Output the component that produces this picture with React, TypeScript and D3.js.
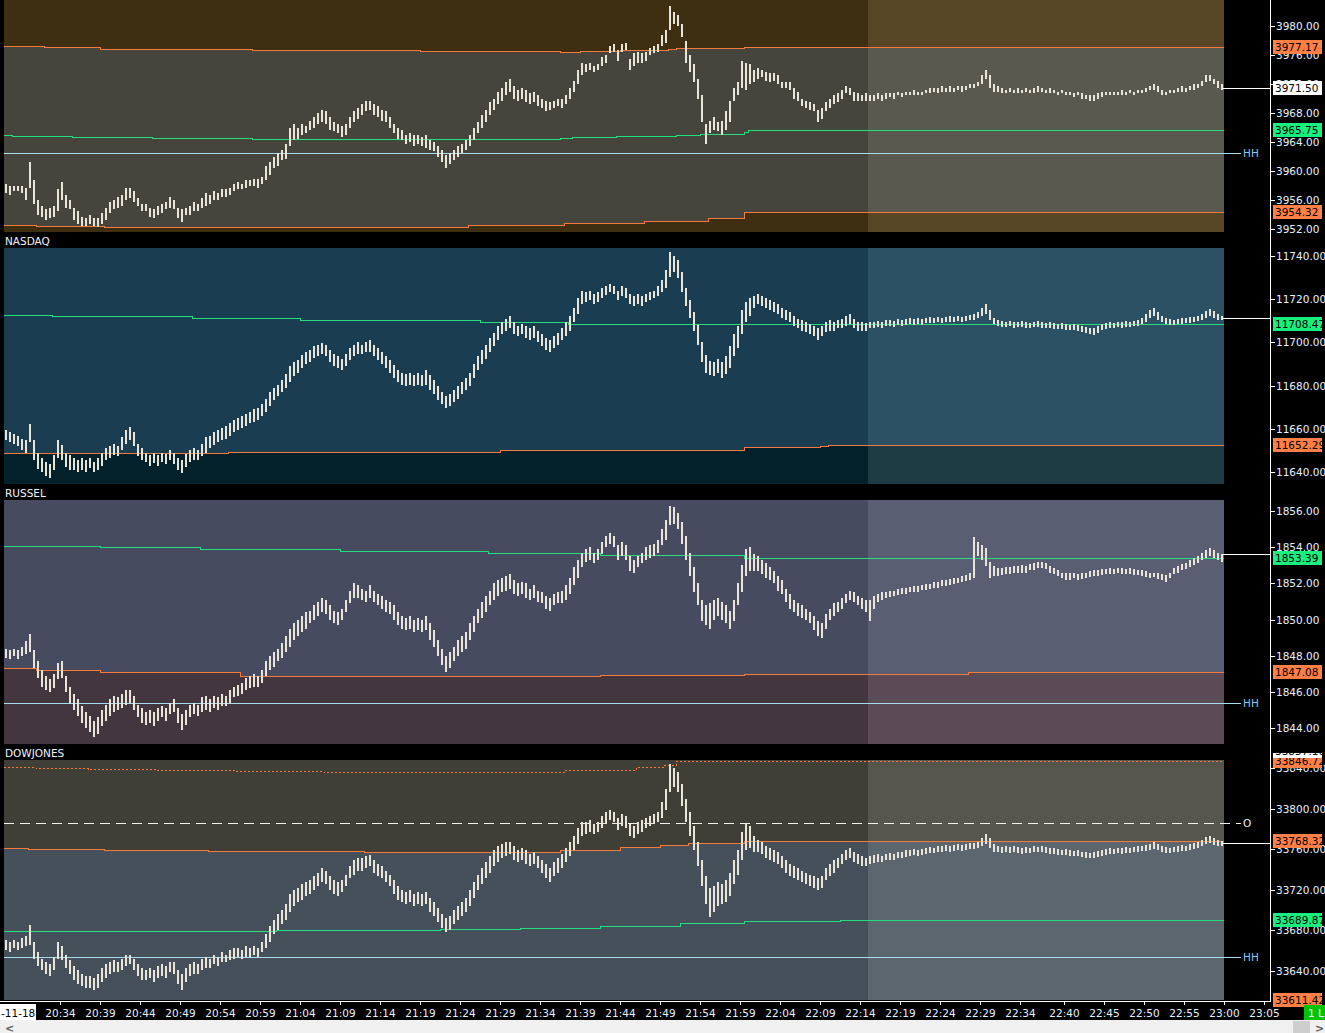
import React, { useEffect, useRef } from "react";
import * as d3 from "d3";

type Bar = [number, number]; // [high, low]
type Step = [number, number]; // [bar slot where the level starts, value]

const W = 1325;
const H = 1033;
const BAR_SLOTS = 305;
const SESSION_SPLIT = 216;

const timeLabels = ["20:34", "20:39", "20:44", "20:49", "20:54", "20:59", "21:04", "21:09", "21:14", "21:19", "21:24", "21:29", "21:34", "21:39", "21:44", "21:49", "21:54", "21:59", "22:04", "22:09", "22:14", "22:19", "22:24", "22:29", "22:34", "22:40", "22:45", "22:50", "22:55", "23:00", "23:05"];
const timeTickSlots = [14, 24, 34, 44, 54, 64, 74, 84, 94, 104, 114, 124, 134, 144, 154, 164, 174, 184, 194, 204, 214, 224, 234, 244, 254, 265, 275, 285, 295, 305, 315];

// ---- S&P ----
const spxTicks = [3952, 3956, 3960, 3964, 3968, 3972, 3976, 3980];
const spxBars: Bar[] = [
  [3958.25,3957],[3958,3956.75],[3958,3957.25],[3958,3957.25],[3958,3957],[3957.75,3956],[3961.25,3957.75],[3958.75,3955.5],[3956,3954],[3955.25,3953.75],
  [3954.75,3953.25],[3955,3953.5],[3955.25,3953.75],[3957.5,3954.5],[3958.5,3956],[3956.75,3955],[3956,3954.75],[3955,3953.25],[3954.5,3952.75],[3953.75,3952.5],
  [3953.5,3952.5],[3954,3952.75],[3953.5,3952.5],[3953.5,3952.25],[3954.25,3952.75],[3955,3953.25],[3955.75,3954.25],[3956,3954.75],[3956.5,3955],[3956.75,3955.25],
  [3957.75,3956],[3957.75,3956.25],[3957.25,3955.75],[3956.25,3955.25],[3955.5,3954.5],[3955.5,3954.5],[3955,3953.75],[3954.75,3953.5],[3955.25,3954],[3955.5,3954.25],
  [3955.75,3954.75],[3956.5,3955],[3956,3954.75],[3955,3953.5],[3954.75,3953],[3955,3954],[3955.25,3954],[3955.75,3954.5],[3955.5,3954.5],[3956.25,3955],
  [3957,3955.25],[3956.75,3955.5],[3957.25,3956],[3957,3956],[3957.5,3956.5],[3957.5,3956.5],[3957.75,3956.75],[3958.25,3957.25],[3958.5,3957.5],[3958.25,3957.5],
  [3958.75,3957.75],[3958.75,3958],[3959,3958],[3959,3957.75],[3959.25,3958.25],[3960.75,3958.75],[3961.25,3959.5],[3962,3960.5],[3962.5,3960.75],[3963,3961.5],
  [3963.75,3961.75],[3966,3963.5],[3966.5,3964.25],[3966,3964.5],[3966.5,3965],[3966.25,3965.25],[3967,3965.75],[3967.5,3966],[3968,3966.5],[3968.5,3966.75],
  [3968.25,3966.5],[3967.5,3965.75],[3966.75,3965.5],[3966.5,3965.25],[3966.25,3964.75],[3966.5,3965],[3967.5,3966],[3968.25,3966.75],[3968.75,3967.25],[3969.25,3967.75],
  [3969.75,3968.25],[3969.75,3968.5],[3969.25,3967.75],[3969,3967.5],[3968.5,3967],[3968.25,3966.75],[3967.5,3966],[3966.5,3965.25],[3966,3964.5],[3965.75,3964.25],
  [3965,3963.75],[3965.25,3964],[3965,3963.5],[3965,3963.75],[3964.75,3963.5],[3965,3963.25],[3964.25,3963],[3964,3962.75],[3963.5,3962],[3963,3961.25],
  [3962.25,3960.5],[3962.5,3961],[3963,3961.5],[3963.5,3962],[3963.75,3962.5],[3964.25,3963],[3965,3963.5],[3966,3964.25],[3966.75,3965.25],[3967.75,3966],
  [3968.5,3966.75],[3969.5,3967.75],[3970,3968.5],[3971,3969.25],[3971.5,3969.75],[3972.25,3970.5],[3972.75,3971],[3971.75,3970],[3971.25,3969.75],[3971.5,3970],
  [3971.25,3969.5],[3970.75,3969.25],[3971,3969.5],[3970.5,3969],[3970,3968.75],[3969.75,3968.25],[3969.5,3968.5],[3969.75,3968.75],[3970,3969],[3970,3968.75],
  [3970.5,3969.25],[3971.5,3970],[3972.5,3971],[3974,3972],[3975,3973.25],[3974.75,3973.75],[3975,3974],[3974.5,3973.75],[3974.75,3974],[3975.75,3974.5],
  [3976,3975],[3977.25,3976.25],[3977.5,3976.5],[3976.75,3975.25],[3977.5,3976.5],[3977.75,3976.75],[3975.5,3974],[3976.25,3974.5],[3976.5,3975],[3976.25,3975],
  [3976.5,3975.25],[3977,3976],[3977.25,3976.25],[3977.5,3976.5],[3978.75,3977.25],[3979.5,3977.75],[3982.75,3979.5],[3982,3980.25],[3981.5,3980],[3980.25,3978.5],
  [3978,3975],[3976,3973.75],[3974.75,3972.25],[3972.75,3970],[3970.5,3966.75],[3966.5,3963.75],[3967,3965.25],[3967.5,3965.75],[3966.75,3965.5],[3967,3965],
  [3968.25,3965.75],[3969.75,3966.75],[3971.5,3969.75],[3972.25,3970.5],[3975.25,3971.5],[3975,3971.25],[3974.75,3972],[3974,3972.25],[3974.25,3972.75],[3974,3973],
  [3973.75,3972.5],[3973.5,3972.25],[3973.5,3972.5],[3973.25,3972],[3972.25,3971.5],[3972.25,3971.5],[3972.25,3971.25],[3971.5,3970],[3971,3969.75],[3970,3969],
  [3969.75,3968.75],[3969.5,3968.5],[3969.25,3968.25],[3968.5,3966.75],[3968.75,3967.25],[3969.5,3968.25],[3970,3968.75],[3970.5,3969.25],[3970.75,3969.5],[3971.25,3970],
  [3971.75,3970.75],[3971.5,3970.5],[3971,3969.75],[3970.75,3969.75],[3970.5,3969.75],[3970.75,3969.75],
  [3970.5,3969.75],[3970.5,3969.75],[3970.75,3970],[3970.5,3969.75],[3970.75,3970],[3970.75,3970.25],[3970.75,3970],[3971,3970.5],[3970.75,3970.25],[3971,3970.5],
  [3971,3970.5],[3971.25,3970.5],[3971,3970.5],[3971,3970.5],[3971.25,3970.75],[3971.5,3970.75],[3971.5,3971],[3971.5,3970.75],[3971.75,3971],[3971.5,3971],
  [3971.75,3971],[3971.5,3971],[3971.75,3971.25],[3971.75,3971],[3971.75,3971.25],[3972,3971.5],[3972,3971.5],[3972.25,3971.75],[3973.25,3972],[3974,3972.75],
  [3973.25,3971.5],[3972,3971],[3971.75,3971],[3971.5,3970.75],[3971.25,3970.75],[3971.5,3971],[3971.25,3970.75],[3971.5,3970.75],[3971.25,3970.75],[3971.5,3971],
  [3971.25,3970.75],[3971.5,3970.75],[3971.75,3971],[3971.5,3971],[3971.25,3970.75],[3971.5,3970.75],[3971.25,3970.75],[3971,3970.5],[3971.25,3970.75],[3971,3970.5],
  [3971,3970.5],[3970.75,3970.25],[3971,3970.5],[3970.75,3970],[3970.5,3970],[3970.5,3969.75],[3970.5,3969.75],[3970.75,3970],[3971,3970.25],[3971,3970.5],
  [3971,3970.5],[3971,3970.5],[3971,3970.5],[3971.25,3970.5],[3971,3970.5],[3971.25,3970.75],[3971,3970.5],[3971.25,3970.75],[3971.25,3970.75],[3971.5,3971],
  [3971.75,3971.25],[3972,3971.25],[3971.75,3971],[3971.25,3970.5],[3971,3970.5],[3971.25,3970.75],[3971.25,3970.75],[3971.5,3971],[3971.75,3971],[3971.5,3971],
  [3971.75,3971.25],[3972,3971.25],[3972,3971.5],[3972.5,3971.75],[3973.25,3972.25],[3973.25,3972.5],[3972.75,3972],[3972.5,3971.5],[3972,3971.25],
];
const spxLast = 3971.5;
const spxUpper: Step[] = [[0,3977.28],[10,3977.1],[24,3976.91],[42,3976.83],[62,3976.7],[104,3976.55],[139,3976.45],[144,3976.56],[154,3976.69],[166,3976.83],[168,3976.97],[185,3977.17]];
const spxPivot: Step[] = [[0,3964.97],[2,3964.83],[17,3964.7],[37,3964.6],[62,3964.5],[74,3964.45],[139,3964.56],[142,3964.7],[153,3964.83],[164,3964.92],[168,3965.06],[174,3965.19],[185,3965.39],[186,3965.66],[200,3965.75]];
const spxLower: Step[] = [[0,3952.56],[8,3952.42],[25,3952.33],[116,3952.6],[140,3952.88],[160,3953.15],[176,3953.57],[185,3954.32]];
const spxHH = 3962.52;

// ---- NASDAQ ----
const ndxTicks = [11640, 11660, 11680, 11700, 11720, 11740];
const ndxBars: Bar[] = [
  [11659.5,11655],[11658.5,11654],[11657.5,11653],[11656.5,11652],[11655.5,11650],[11655,11649],[11662,11654],[11655,11645.5],[11649,11641.5],[11646.5,11640],
  [11644.5,11638],[11643.5,11637],[11648,11641],[11655,11646.5],[11652.5,11645.5],[11649,11642.5],[11648,11641],[11646.5,11641],[11645.5,11640],[11646.5,11641],
  [11645.5,11640],[11646.5,11642],[11644.5,11640],[11646.5,11641],[11649,11643],[11651,11645.5],[11652,11646.5],[11653,11648],[11652,11647.5],[11656,11650],
  [11659.5,11653],[11661,11655],[11658.5,11652],[11653,11647.5],[11651,11645.5],[11649,11644.5],[11648,11643],[11649,11644],[11648,11643],[11649,11644.5],
  [11648.5,11643.5],[11650,11645.5],[11649,11643.5],[11646.5,11641],[11645.5,11639.5],[11648.5,11642.5],[11650,11644.5],[11651,11645.5],[11650,11645.5],[11653,11647.5],
  [11656,11649],[11656.5,11651],[11658.5,11652.5],[11659.5,11654],[11660.5,11655],[11661.5,11655.5],[11662.5,11656.5],[11664,11658.5],[11665,11659.5],[11666,11660.5],
  [11667,11661.5],[11668,11662.5],[11669,11663],[11669.5,11664],[11671.5,11666],[11674,11668],[11677,11670.5],[11679,11673.5],[11680.5,11675],[11682.5,11677],
  [11685.5,11679],[11689,11681.5],[11691,11684.5],[11692,11686],[11694,11688],[11695.5,11690],[11696.5,11691],[11698.5,11693],[11699,11693.5],[11699.5,11694.5],
  [11699,11693.5],[11696.5,11691],[11694.5,11689],[11693.5,11688],[11692.5,11687],[11694.5,11689],[11697.5,11692],[11699,11693.5],[11700,11694.5],[11699,11694.5],
  [11700,11695.5],[11701,11695.5],[11699,11693.5],[11697.5,11692],[11695.5,11690],[11693.5,11688],[11692,11686],[11689.5,11683.5],[11687,11681.5],[11686,11680.5],
  [11685.5,11680],[11686,11680.5],[11685,11680],[11686,11680.5],[11685,11680],[11687,11680.5],[11685,11678],[11682.5,11676],[11680,11673.5],[11677,11671.5],
  [11675,11669.5],[11676,11670.5],[11678,11672.5],[11680,11674],[11681.5,11676],[11683.5,11678],[11686,11680],[11690,11683.5],[11693.5,11687],[11696.5,11690],
  [11699,11692.5],[11702,11695.5],[11704.5,11698.5],[11707.5,11701],[11709.5,11704],[11711,11705.5],[11712,11706.5],[11709.5,11704],[11707.5,11703],[11708.5,11704],
  [11707.5,11702],[11706.5,11701],[11707.5,11702],[11705.5,11700],[11704,11698.5],[11702,11696.5],[11701,11695.5],[11703,11697.5],[11704.5,11699],[11706.5,11701],
  [11709.5,11703],[11712,11705.5],[11716,11709.5],[11720.5,11713],[11724,11718],[11723.5,11718.5],[11724,11719.5],[11722.5,11718],[11723.5,11718.5],[11725,11720.5],
  [11726,11722],[11727,11723.5],[11726,11722.5],[11724,11719.5],[11726,11721.5],[11725,11720.5],[11722.5,11718],[11721.5,11717],[11722.5,11718],[11721.5,11717],
  [11722.5,11718.5],[11723.5,11719.5],[11724,11720.5],[11726,11721.5],[11729,11723.5],[11733.5,11725],[11742,11730.5],[11740,11732.5],[11738,11730],[11732.5,11723.5],
  [11725,11717],[11719.5,11711.5],[11714,11705.5],[11708,11699],[11700,11691],[11694,11686],[11691.5,11685],[11691,11684.5],[11692.5,11686],[11691,11683.5],
  [11693.5,11685.5],[11698.5,11688],[11704,11693.5],[11707.5,11697.5],[11715,11704],[11718.5,11709.5],[11720.5,11712],[11721.5,11716],[11722.5,11718],[11721.5,11717],
  [11720.5,11716],[11719.5,11715],[11718.5,11714],[11718,11713],[11716,11711.5],[11715,11710.5],[11714,11709.5],[11712,11707.5],[11711,11706.5],[11710.5,11705.5],
  [11709.5,11705],[11708.5,11704],[11707.5,11703],[11706.5,11701],[11707.5,11703],[11709.5,11705],[11710.5,11705.5],[11709.5,11705.5],[11710.5,11706.5],[11711,11706.5],
  [11712,11707.5],[11713,11708.5],[11711,11706.5],[11709.5,11705.5],[11709.5,11705.5],[11709,11705.5],
  [11709.5,11706.75],[11709.5,11706.75],[11710,11707],[11709.5,11706.75],[11710.5,11707.5],[11710.5,11707.5],[11710,11707],[11710.75,11708],[11710.5,11707.5],[11710.75,11708],
  [11711.25,11708.5],[11710.75,11708],[11711.25,11708.5],[11710.75,11708],[11711.25,11709],[11711.75,11709],[11711.25,11709],[11711.75,11709.5],[11711.25,11709],[11711.75,11709.5],
  [11712.25,11709.5],[11711.75,11709.5],[11712.25,11710],[11711.75,11709.5],[11712.25,11710],[11712.75,11710.5],[11713,11710.5],[11714,11711.25],[11716,11712.25],[11717.75,11713],
  [11715,11710.5],[11711.25,11708.5],[11710.5,11707.5],[11710,11707],[11709.5,11707],[11710,11707.5],[11709.5,11706.75],[11709.5,11707],[11710,11707],[11709.5,11706.75],
  [11709,11706.75],[11709.5,11707],[11710,11707],[11709.5,11706.75],[11709,11706.75],[11709.5,11706.75],[11709,11706.25],[11708.5,11706.25],[11709,11706.25],[11708.5,11705.75],
  [11708,11705.75],[11708.5,11705.75],[11708,11705.25],[11707.5,11704.75],[11707,11704.25],[11706.75,11704],[11706.75,11703.5],[11707.5,11704.25],[11708.5,11705.75],[11709,11706.25],
  [11709.5,11706.75],[11709,11706.75],[11709.5,11707],[11709.5,11706.75],[11710,11707],[11709.5,11707],[11710,11707.5],[11710.5,11707.5],[11711.25,11708.5],[11713,11709.5],
  [11715,11711.25],[11716,11712.25],[11714,11710.5],[11712.25,11709.5],[11711.25,11708.5],[11710.75,11708],[11710.5,11708],[11710.75,11708.5],[11711.25,11708.5],[11711.25,11709],
  [11711.75,11709],[11711.75,11709.5],[11712.25,11710],[11713,11710.5],[11714.5,11711.25],[11715.5,11712.25],[11714.5,11711.25],[11713,11710.5],[11712.25,11710.5],
];
const ndxLast = 11711.3;
const ndxPivot: Step[] = [[0,11712.7],[12,11712.2],[47,11711.3],[74,11710.4],[119,11709.4],[141,11708.47]];
const ndxLower: Step[] = [[0,11648.8],[56,11649.2],[124,11650.2],[185,11651.5],[204,11651.9],[206,11652.29]];

// ---- RUSSELL ----
const rutTicks = [1844, 1846, 1848, 1850, 1852, 1854, 1856];
const rutBars: Bar[] = [
  [1848.4,1847.9],[1848.3,1847.8],[1848.4,1848.0],[1848.3,1847.8],[1848.5,1848.0],[1848.8,1848.1],[1849.2,1848.2],[1848.3,1847.3],[1847.7,1846.8],[1847.2,1846.3],
  [1846.9,1846.1],[1846.7,1846.0],[1847.0,1846.2],[1847.6,1846.7],[1847.7,1846.8],[1846.9,1846.0],[1846.3,1845.4],[1845.9,1845.0],[1845.6,1844.7],[1845.2,1844.3],
  [1844.9,1844.0],[1844.7,1843.8],[1844.4,1843.5],[1844.6,1843.7],[1845.0,1844.1],[1845.3,1844.4],[1845.6,1844.7],[1845.8,1844.9],[1845.7,1845.0],[1845.9,1845.1],
  [1846.1,1845.3],[1846.1,1845.4],[1845.8,1845.0],[1845.3,1844.6],[1845.1,1844.3],[1844.9,1844.2],[1845.0,1844.3],[1844.9,1844.1],[1845.1,1844.4],[1845.2,1844.6],
  [1845.1,1844.4],[1845.4,1844.8],[1845.6,1844.9],[1845.1,1844.3],[1844.8,1843.9],[1845.0,1844.2],[1845.3,1844.6],[1845.4,1844.8],[1845.3,1844.7],[1845.7,1844.9],
  [1845.8,1845.0],[1845.6,1844.9],[1845.8,1845.1],[1845.7,1845.0],[1845.9,1845.2],[1845.8,1845.2],[1846.1,1845.4],[1846.3,1845.7],[1846.4,1845.8],[1846.5,1845.9],
  [1846.8,1846.1],[1846.9,1846.2],[1847.0,1846.3],[1846.9,1846.3],[1847.2,1846.5],[1847.7,1846.9],[1848.0,1847.2],[1848.2,1847.4],[1848.4,1847.7],[1848.7,1847.9],
  [1849.1,1848.2],[1849.5,1848.5],[1849.8,1848.9],[1850.0,1849.1],[1850.2,1849.3],[1850.4,1849.5],[1850.5,1849.8],[1850.8,1850.0],[1851.0,1850.2],[1851.2,1850.4],
  [1851.1,1850.3],[1850.8,1850.0],[1850.5,1849.8],[1850.4,1849.7],[1850.6,1850.0],[1851.1,1850.4],[1851.6,1850.9],[1852.0,1851.2],[1851.9,1851.2],[1851.7,1851.1],
  [1851.6,1851.0],[1851.9,1851.2],[1851.6,1851.0],[1851.4,1850.8],[1851.3,1850.6],[1851.1,1850.4],[1851.0,1850.3],[1850.8,1850.0],[1850.4,1849.7],[1850.2,1849.5],
  [1850.1,1849.4],[1850.2,1849.5],[1850.0,1849.3],[1850.1,1849.4],[1850.0,1849.3],[1850.2,1849.4],[1849.8,1848.9],[1849.4,1848.5],[1848.9,1848.0],[1848.4,1847.5],
  [1848.0,1847.1],[1848.2,1847.3],[1848.5,1847.7],[1848.9,1848.0],[1849.1,1848.2],[1849.3,1848.4],[1849.8,1848.9],[1850.2,1849.3],[1850.6,1849.8],[1851.0,1850.1],
  [1851.3,1850.4],[1851.6,1850.8],[1852.0,1851.1],[1852.2,1851.3],[1852.3,1851.5],[1852.4,1851.6],[1852.5,1851.7],[1852.2,1851.4],[1852.0,1851.3],[1852.1,1851.4],
  [1852.0,1851.2],[1851.7,1851.1],[1851.9,1851.2],[1851.6,1851.0],[1851.5,1850.9],[1851.3,1850.6],[1851.2,1850.5],[1851.4,1850.8],[1851.5,1850.9],[1851.6,1850.9],
  [1851.9,1851.1],[1852.3,1851.4],[1852.9,1851.9],[1853.3,1852.3],[1853.7,1852.9],[1853.9,1853.2],[1854.0,1853.3],[1853.7,1853.1],[1853.9,1853.3],[1854.3,1853.6],
  [1854.6,1854.0],[1854.8,1854.2],[1854.6,1854.0],[1854.1,1853.3],[1854.3,1853.5],[1854.1,1853.3],[1853.5,1852.7],[1853.3,1852.6],[1853.5,1852.9],[1853.7,1853.1],
  [1854.0,1853.3],[1854.1,1853.4],[1854.2,1853.5],[1854.4,1853.7],[1855.0,1854.1],[1855.5,1854.4],[1856.3,1855.2],[1856.2,1855.3],[1855.9,1855.0],[1855.4,1854.2],
  [1854.6,1853.3],[1853.7,1852.4],[1852.9,1851.5],[1852.0,1850.8],[1851.1,1849.9],[1850.8,1849.7],[1850.9,1849.5],[1851.1,1850.0],[1851.2,1850.2],[1851.0,1850.0],
  [1850.8,1849.8],[1850.5,1849.5],[1851.1,1849.9],[1852.0,1850.8],[1853.0,1851.5],[1853.9,1852.4],[1854.0,1852.7],[1853.6,1852.7],[1853.5,1852.7],[1853.3,1852.5],
  [1853.1,1852.3],[1852.9,1852.2],[1852.7,1852.0],[1852.4,1851.6],[1852.2,1851.4],[1851.7,1851.0],[1851.4,1850.6],[1851.1,1850.4],[1850.9,1850.2],[1850.8,1850.1],
  [1850.6,1850.0],[1850.4,1849.8],[1850.2,1849.4],[1849.9,1849.1],[1849.8,1849.0],[1850.3,1849.5],[1850.6,1850.0],[1850.9,1850.2],[1851.0,1850.4],[1851.2,1850.6],
  [1851.4,1850.9],[1851.6,1851.1],[1851.5,1851.0],[1851.3,1850.8],[1851.2,1850.6],[1851.1,1850.4],[1851.1,1849.9],[1851.3,1850.6],[1851.4,1851.0],[1851.5,1851.1],
  [1851.5,1851.2],[1851.6,1851.25],[1851.6,1851.3],[1851.7,1851.35],[1851.75,1851.4],[1851.75,1851.4],[1851.8,1851.5],[1851.85,1851.5],[1851.85,1851.5],[1851.9,1851.65],
  [1851.95,1851.65],[1851.95,1851.7],[1852.1,1851.75],[1852.1,1851.75],[1852.2,1851.85],[1852.2,1851.85],[1852.25,1851.9],[1852.3,1851.95],[1852.3,1852.0],[1852.4,1852.1],
  [1852.45,1852.15],[1852.6,1852.2],[1854.55,1852.3],[1854.3,1853.5],[1854.1,1853.3],[1853.95,1852.95],[1853.2,1852.3],[1852.95,1852.4],[1852.85,1852.4],[1852.85,1852.45],
  [1852.9,1852.5],[1852.9,1852.5],[1852.95,1852.55],[1852.95,1852.6],[1853.0,1852.6],[1852.95,1852.6],[1853.05,1852.75],[1853.1,1852.75],[1853.2,1852.85],[1853.2,1852.85],
  [1853.1,1852.8],[1852.95,1852.6],[1852.85,1852.5],[1852.75,1852.4],[1852.6,1852.3],[1852.6,1852.2],[1852.55,1852.2],[1852.6,1852.3],[1852.5,1852.2],[1852.55,1852.25],
  [1852.6,1852.3],[1852.7,1852.35],[1852.75,1852.4],[1852.75,1852.4],[1852.8,1852.45],[1852.8,1852.5],[1852.85,1852.5],[1852.8,1852.5],[1852.85,1852.55],[1852.85,1852.5],
  [1852.8,1852.5],[1852.85,1852.5],[1852.8,1852.45],[1852.75,1852.45],[1852.75,1852.4],[1852.7,1852.35],[1852.6,1852.3],[1852.6,1852.35],[1852.55,1852.25],[1852.5,1852.2],
  [1852.45,1852.1],[1852.6,1852.3],[1852.85,1852.5],[1852.95,1852.6],[1853.05,1852.75],[1853.1,1852.8],[1853.3,1852.9],[1853.4,1853.0],[1853.5,1853.1],[1853.7,1853.3],
  [1853.85,1853.4],[1853.95,1853.5],[1853.85,1853.4],[1853.7,1853.3],[1853.6,1853.2],
];
const rutLast = 1853.6;
const rutPivot: Step[] = [[0,1854.06],[24,1854.01],[49,1853.9],[84,1853.79],[121,1853.68],[149,1853.57],[185,1853.43],[216,1853.39]];
const rutLower: Step[] = [[0,1847.32],[8,1847.21],[24,1847.1],[59,1846.88],[149,1846.94],[185,1847.02],[241,1847.08]];
const rutHH = 1845.38;

// ---- DOW ----
const dowTicks = [33640, 33680, 33720, 33760, 33800, 33840];
const dowBars: Bar[] = [
  [33670,33660],[33668,33658],[33670,33662],[33668,33660],[33672,33662],[33674,33664],[33685,33665],[33668,33652],[33658,33645],[33652,33641],
  [33649,33637],[33647,33635],[33654,33641],[33668,33652],[33664,33651],[33656,33643],[33651,33637],[33645,33631],[33641,33627],[33637,33625],
  [33635,33623],[33635,33623],[33633,33621],[33637,33623],[33643,33629],[33647,33633],[33649,33637],[33651,33639],[33649,33639],[33652,33641],
  [33656,33645],[33656,33647],[33652,33641],[33647,33635],[33643,33631],[33641,33631],[33643,33633],[33641,33629],[33645,33633],[33647,33635],
  [33645,33633],[33649,33639],[33649,33637],[33641,33627],[33637,33621],[33643,33629],[33647,33635],[33649,33637],[33647,33637],[33652,33641],
  [33654,33643],[33652,33643],[33656,33647],[33654,33645],[33658,33649],[33656,33649],[33660,33651],[33662,33652],[33662,33654],[33660,33652],
  [33664,33654],[33662,33654],[33664,33656],[33662,33654],[33668,33658],[33676,33662],[33684,33668],[33690,33676],[33696,33680],[33700,33686],
  [33706,33690],[33716,33698],[33720,33704],[33722,33708],[33726,33710],[33728,33714],[33730,33716],[33734,33720],[33737,33724],[33741,33728],
  [33739,33726],[33734,33720],[33730,33716],[33728,33714],[33730,33718],[33735,33724],[33743,33732],[33749,33735],[33751,33739],[33751,33739],
  [33753,33741],[33754,33743],[33749,33737],[33745,33734],[33743,33732],[33739,33728],[33735,33724],[33730,33716],[33724,33710],[33720,33708],
  [33718,33706],[33720,33708],[33716,33704],[33718,33706],[33716,33704],[33718,33706],[33712,33698],[33708,33694],[33702,33688],[33696,33682],
  [33692,33678],[33694,33680],[33700,33686],[33704,33690],[33708,33694],[33712,33698],[33720,33704],[33728,33712],[33735,33720],[33741,33726],
  [33747,33732],[33753,33737],[33759,33743],[33763,33747],[33765,33751],[33767,33753],[33767,33755],[33763,33749],[33759,33747],[33761,33749],
  [33759,33745],[33755,33743],[33757,33745],[33753,33741],[33749,33737],[33745,33732],[33741,33728],[33747,33734],[33751,33737],[33755,33741],
  [33761,33747],[33767,33753],[33773,33759],[33781,33765],[33787,33773],[33787,33775],[33789,33777],[33785,33775],[33787,33777],[33793,33781],
  [33797,33785],[33799,33789],[33797,33787],[33791,33779],[33795,33783],[33793,33781],[33785,33773],[33783,33771],[33787,33775],[33789,33777],
  [33791,33781],[33793,33783],[33795,33785],[33797,33787],[33807,33791],[33820,33799],[33844,33817],[33840,33822],[33836,33817],[33824,33803],
  [33810,33787],[33797,33773],[33783,33759],[33767,33743],[33749,33724],[33734,33706],[33722,33693],[33724,33698],[33728,33704],[33726,33706],
  [33730,33708],[33737,33714],[33749,33726],[33759,33735],[33777,33749],[33786,33759],[33783,33761],[33773,33757],[33769,33757],[33767,33755],
  [33763,33751],[33761,33749],[33759,33747],[33757,33745],[33753,33741],[33749,33737],[33745,33734],[33743,33732],[33741,33730],[33739,33728],
  [33737,33726],[33735,33724],[33734,33722],[33732,33720],[33734,33722],[33741,33730],[33745,33734],[33749,33737],[33751,33741],[33755,33745],
  [33759,33749],[33761,33751],[33757,33747],[33755,33745],[33753,33743],[33751,33743],[33753,33745],[33754,33746],[33755,33747],[33753,33747],
  [33755,33749],[33756,33749],[33755,33749],[33757,33751],[33757,33751],[33759,33752],[33759,33753],[33760,33754],[33759,33753],[33760,33754],
  [33761,33755],[33762,33756],[33761,33756],[33763,33757],[33763,33757],[33764,33758],[33763,33757],[33764,33758],[33765,33759],[33764,33758],
  [33765,33759],[33766,33760],[33766,33760],[33767,33761],[33771,33763],[33775,33765],[33771,33761],[33765,33757],[33763,33757],[33762,33756],
  [33763,33757],[33762,33756],[33763,33757],[33762,33756],[33761,33755],[33762,33756],[33761,33756],[33763,33757],[33762,33757],[33763,33757],
  [33762,33756],[33761,33755],[33761,33755],[33760,33754],[33759,33754],[33760,33754],[33759,33753],[33758,33753],[33759,33753],[33757,33752],
  [33757,33751],[33756,33751],[33757,33751],[33758,33752],[33759,33753],[33760,33754],[33761,33755],[33760,33755],[33761,33756],[33761,33755],
  [33762,33756],[33761,33756],[33762,33757],[33763,33757],[33763,33758],[33764,33758],[33765,33759],[33767,33760],[33765,33759],[33763,33757],
  [33762,33756],[33761,33756],[33762,33757],[33763,33757],[33764,33758],[33763,33758],[33765,33759],[33766,33760],[33767,33761],[33769,33763],
  [33772,33765],[33773,33766],[33771,33764],[33769,33763],[33768,33763],
];
const dowLast = 33766;
const dowUpper: Step[] = [[0,33841],[8,33840],[21,33839],[38,33838],[58,33837],[80,33836.3],[140,33838.3],[158,33841.3],[165,33843.3],[168,33846.72]];
const dowMid: Step[] = [[0,33761],[6,33760],[25,33759],[51,33758],[90,33757.5],[139,33759.3],[154,33762.2],[164,33764.2],[171,33766.2],[185,33768.32]];
const dowPivot: Step[] = [[0,33679.2],[68,33680.2],[109,33681.2],[129,33682.2],[149,33684.2],[169,33687.1],[185,33689.1],[209,33689.87]];
const dowLower: Step[] = [[230,33611.42]];
const dowOpen = 33785.65;
const dowHH = 33653.2;
const dowHigh = 33857.1;

// ---- styling / layout ----
const ORANGE = "#f47b3c";
const GREEN = "#22e07e";
const B_ORANGE = "#ff7f45";
const B_GREEN = "#19ef7c";
const HH_LINE = "#a6dcec";
const HH_TEXT = "#86c9f2";
const TEXT = "#e6f2ff";
const BAR_FILL = "#e8e4d8";
const FONT = "DejaVu Sans, Verdana, sans-serif";

const lastOf = (s: Step[]) => s[s.length - 1][1];

const panels = [
  {
    title: "", titleY: 0, top: 0, bottom: 232, badgeTop: 0, domain: [3980, 3952], range: [26.3, 229.3],
    ticks: spxTicks, bars: spxBars, last: spxLast, lastBadge: true,
    base: ["#3e2f12", "#574726"],
    fills: [{ steps: spxUpper, color: ["#46453d", "#5a5950"] }, { steps: spxLower, color: ["#3e2f12", "#574726"] }],
    lines: [{ steps: spxUpper, color: ORANGE }, { steps: spxPivot, color: GREEN }, { steps: spxLower, color: ORANGE }],
    levels: [{ value: spxHH, color: HH_LINE, tag: "HH", tagColor: HH_TEXT }],
    badges: [{ value: lastOf(spxUpper), fill: B_ORANGE }, { value: lastOf(spxPivot), fill: B_GREEN }, { value: lastOf(spxLower), fill: B_ORANGE }],
  },
  {
    title: "NASDAQ", titleY: 241, top: 248, bottom: 484, badgeTop: 240, domain: [11740, 11640], range: [256, 472],
    ticks: ndxTicks, bars: ndxBars, last: ndxLast, lastBadge: false,
    base: ["#1b3d51", "#2c5064"],
    fills: [{ steps: ndxLower, color: ["#03212b", "#1e3c43"] }],
    lines: [{ steps: ndxPivot, color: GREEN }, { steps: ndxLower, color: ORANGE }],
    levels: [],
    badges: [{ value: lastOf(ndxPivot), fill: B_GREEN }, { value: lastOf(ndxLower), fill: B_ORANGE }],
  },
  {
    title: "RUSSEL", titleY: 493, top: 500, bottom: 744, badgeTop: 492, domain: [1856, 1844], range: [511, 728.2],
    ticks: rutTicks, bars: rutBars, last: rutLast, lastBadge: false,
    base: ["#464b60", "#5a5e73"],
    fills: [{ steps: rutLower, color: ["#43363f", "#5a4b56"] }],
    lines: [{ steps: rutPivot, color: GREEN }, { steps: rutLower, color: ORANGE }],
    levels: [{ value: rutHH, color: HH_LINE, tag: "HH", tagColor: HH_TEXT }],
    badges: [{ value: lastOf(rutPivot), fill: B_GREEN }, { value: lastOf(rutLower), fill: B_ORANGE }],
  },
  {
    title: "DOWJONES", titleY: 753, top: 760, bottom: 1000, badgeTop: 753, domain: [33840, 33640], range: [768.3, 970.7],
    ticks: dowTicks, bars: dowBars, last: dowLast, lastBadge: false,
    base: ["#403f37", "#57564e"],
    fills: [{ steps: dowMid, color: ["#46505a", "#5b666e"] }],
    lines: [{ steps: dowUpper, color: ORANGE, dash: "2,2" }, { steps: dowMid, color: ORANGE }, { steps: dowPivot, color: GREEN }, { steps: dowLower, color: ORANGE }],
    levels: [
      { value: dowOpen, color: "#f0f0f0", dash: "10,6", tag: "O", tagColor: "#f0f0f0" },
      { value: dowHH, color: HH_LINE, tag: "HH", tagColor: HH_TEXT },
    ],
    badges: [
      { value: lastOf(dowUpper), fill: B_ORANGE },
      { value: lastOf(dowMid), fill: B_ORANGE },
      { value: lastOf(dowPivot), fill: B_GREEN },
      { value: lastOf(dowLower), fill: B_ORANGE },
      { value: dowHigh, fill: "#ffffff" },
    ],
  },
];

const App: React.FC = () => {
  const svgRef = useRef<SVGSVGElement | null>(null);

  useEffect(() => {
    document.body.style.margin = "0";
    const svg = d3.select(svgRef.current);
    svg.selectAll("*").remove();
    svg.append("rect").attr("width", W).attr("height", H).attr("fill", "#000");
    const defs = svg.append("defs");

    const x = d3.scaleLinear().domain([0, BAR_SLOTS]).range([4, 1224]);
    const splitX = x(SESSION_SPLIT);
    const axisX = 1270.5;
    const fmt = d3.format(".2f");
    const extend = (s: Step[]): Step[] => [...s, [BAR_SLOTS, s[s.length - 1][1]]];

    panels.forEach((p, pi) => {
      const y = d3.scaleLinear().domain(p.domain).range(p.range);
      const py = (v: number) => Math.round(y(v)) + 0.5;

      // backgrounds, left (active) and right session
      [[x(0), splitX], [splitX, x(BAR_SLOTS)]].forEach(([x0, x1], si) => {
        const id = `clip-${pi}-${si}`;
        defs.append("clipPath").attr("id", id).append("rect")
          .attr("x", x0).attr("y", p.top).attr("width", x1 - x0).attr("height", p.bottom - p.top);
        const g = svg.append("g").attr("clip-path", `url(#${id})`);
        g.append("rect").attr("x", x0).attr("y", p.top).attr("width", x1 - x0)
          .attr("height", p.bottom - p.top).attr("fill", p.base[si]);
        p.fills.forEach((f) => {
          const area = d3.area<Step>().x((d) => x(d[0])).y0(p.bottom)
            .y1((d) => Math.round(y(d[1]))).curve(d3.curveStepAfter);
          g.append("path").attr("d", area(extend(f.steps))).attr("fill", f.color[si]);
        });
      });

      const cid = `clip-${pi}`;
      defs.append("clipPath").attr("id", cid).append("rect")
        .attr("x", x(0)).attr("y", p.top).attr("width", x(BAR_SLOTS) - x(0)).attr("height", p.bottom - p.top);
      const g = svg.append("g").attr("clip-path", `url(#${cid})`);

      const line = d3.line<Step>().x((d) => x(d[0])).y((d) => py(d[1])).curve(d3.curveStepAfter);
      p.lines.forEach((l) => {
        g.append("path").attr("d", line(extend(l.steps))).attr("fill", "none")
          .attr("stroke", l.color).attr("stroke-width", 1)
          .attr("stroke-dasharray", l.dash || null).attr("shape-rendering", "crispEdges");
      });

      // horizontal reference levels with tags
      p.levels.forEach((lv) => {
        svg.append("line").attr("x1", x(0)).attr("x2", 1241).attr("y1", py(lv.value)).attr("y2", py(lv.value))
          .attr("stroke", lv.color).attr("stroke-dasharray", lv.dash || null).attr("shape-rendering", "crispEdges");
        svg.append("text").attr("x", 1243).attr("y", y(lv.value)).attr("dominant-baseline", "central")
          .attr("font-family", FONT).attr("font-size", 10.5).attr("fill", lv.tagColor).text(lv.tag);
      });

      const gb = svg.append("g").attr("clip-path", `url(#${cid})`);
      gb.selectAll("rect").data(p.bars).join("rect")
        .attr("x", (_d, i) => Math.round(x(i + 0.5)) - 1)
        .attr("width", 2)
        .attr("y", (d) => Math.round(y(d[0])))
        .attr("height", (d) => Math.max(1, Math.round(y(d[1])) - Math.round(y(d[0]))))
        .attr("fill", BAR_FILL);

      // last price connector
      svg.append("line").attr("x1", x(BAR_SLOTS) - 2).attr("x2", axisX).attr("y1", py(p.last)).attr("y2", py(p.last))
        .attr("stroke", "#ffffff").attr("shape-rendering", "crispEdges");

      // price axis
      p.ticks.forEach((t) => {
        svg.append("line").attr("x1", axisX).attr("x2", axisX + 4).attr("y1", py(t)).attr("y2", py(t))
          .attr("stroke", "#ffffff").attr("shape-rendering", "crispEdges");
        svg.append("text").attr("x", 1276).attr("y", y(t)).attr("dominant-baseline", "central")
          .attr("font-family", FONT).attr("font-size", 10.5).attr("fill", TEXT).text(fmt(t));
      });

      // value badges, clipped to the panel's strip of the price axis
      const bid = `badge-clip-${pi}`;
      defs.append("clipPath").attr("id", bid).append("rect")
        .attr("x", 1271).attr("y", p.badgeTop).attr("width", W - 1271).attr("height", H - p.badgeTop);
      const gBadge = svg.append("g").attr("clip-path", `url(#${bid})`);
      const badges = p.lastBadge ? [...p.badges.slice(0, 1), { value: p.last, fill: "#ffffff" }, ...p.badges.slice(1)] : p.badges;
      badges.forEach((b) => {
        const cy = y(b.value);
        gBadge.append("rect").attr("x", 1273).attr("y", Math.round(cy) - 7).attr("width", 49).attr("height", 14).attr("fill", b.fill);
        gBadge.append("text").attr("x", 1275).attr("y", cy).attr("dominant-baseline", "central")
          .attr("font-family", FONT).attr("font-size", 10.5).attr("fill", "#000").text(fmt(b.value));
      });

      if (p.title) {
        svg.append("text").attr("x", 5).attr("y", p.titleY).attr("dominant-baseline", "central")
          .attr("font-family", FONT).attr("font-size", 10.5).attr("fill", "#f0f6ff").text(p.title);
      }
    });

    // vertical price-axis line
    svg.append("line").attr("x1", axisX).attr("x2", axisX).attr("y1", 0).attr("y2", 1001)
      .attr("stroke", "#ffffff").attr("shape-rendering", "crispEdges");

    // time axis
    svg.append("line").attr("x1", 0).attr("x2", axisX).attr("y1", 1001.5).attr("y2", 1001.5)
      .attr("stroke", "#ffffff").attr("shape-rendering", "crispEdges");
    timeLabels.forEach((lab, i) => {
      const tx = Math.round(x(timeTickSlots[i])) + 0.5;
      svg.append("line").attr("x1", tx).attr("x2", tx).attr("y1", 1002).attr("y2", 1005)
        .attr("stroke", "#ffffff").attr("shape-rendering", "crispEdges");
      svg.append("text").attr("x", tx).attr("y", 1013).attr("text-anchor", "middle").attr("dominant-baseline", "central")
        .attr("font-family", FONT).attr("font-size", 10.5).attr("fill", TEXT).text(lab);
    });
    svg.append("rect").attr("x", 0).attr("y", 1004).attr("width", 36).attr("height", 16).attr("fill", "#ffffff");
    svg.append("text").attr("x", 1).attr("y", 1013).attr("dominant-baseline", "central")
      .attr("font-family", FONT).attr("font-size", 10.5).attr("fill", "#000").text("-11-18");
    svg.append("rect").attr("x", 1304).attr("y", 1005).attr("width", 21).attr("height", 15).attr("fill", "#00c400");
    svg.append("text").attr("x", 1308).attr("y", 1013).attr("dominant-baseline", "central")
      .attr("font-family", FONT).attr("font-size", 10.5).attr("fill", "#ffffff").text("1 L");

    // scroll bar
    svg.append("rect").attr("x", 0).attr("y", 1020).attr("width", W).attr("height", 13).attr("fill", "#f0f0f0");
    svg.append("rect").attr("x", 1293).attr("y", 1021).attr("width", 17).attr("height", 12).attr("fill", "#cdcdcd");
    svg.append("text").attr("x", 5).attr("y", 1028).attr("dominant-baseline", "central")
      .attr("font-family", FONT).attr("font-size", 11).attr("font-weight", "bold").attr("fill", "#606060").text("<");
    svg.append("text").attr("x", 1315).attr("y", 1028).attr("dominant-baseline", "central")
      .attr("font-family", FONT).attr("font-size", 11).attr("font-weight", "bold").attr("fill", "#606060").text(">");
  }, []);

  return <svg ref={svgRef} width={W} height={H} style={{ display: "block" }} />;
};

export default App;
